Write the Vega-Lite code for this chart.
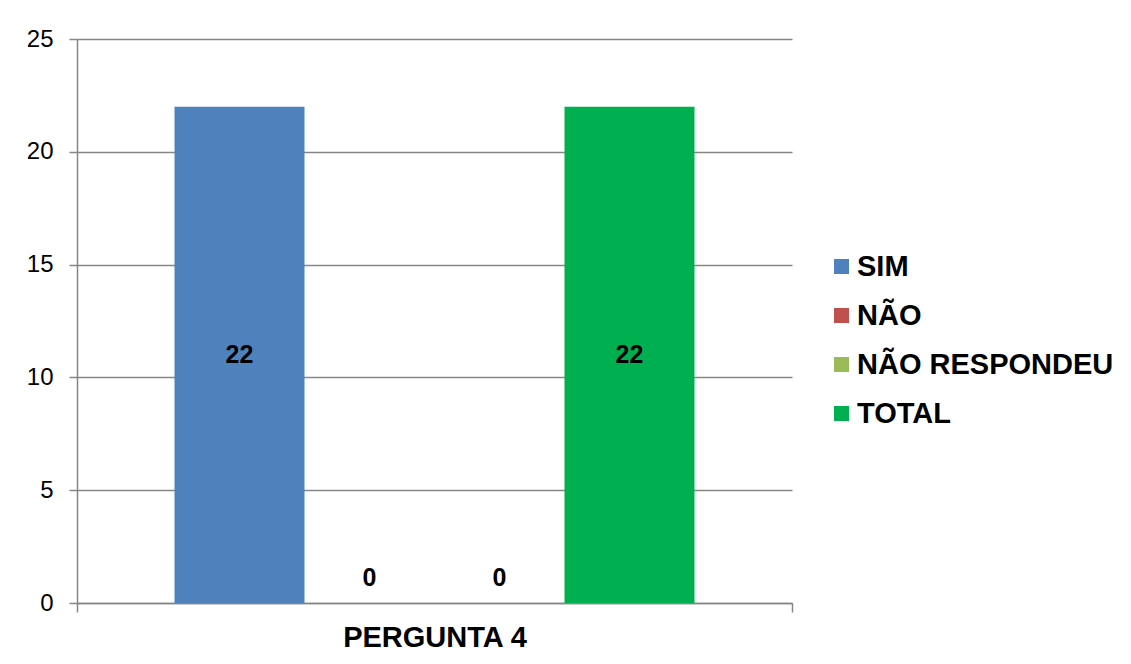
{
  "$schema": "https://vega.github.io/schema/vega-lite/v6.json",
  "autosize": "none",
  "width": 715,
  "height": 564,
  "padding": {"left": 77, "top": 39, "right": 339, "bottom": 61},
  "background": "white",
  "data": {
    "values": [
      {"pergunta": "PERGUNTA 4", "resposta": "SIM", "valor": 22},
      {"pergunta": "PERGUNTA 4", "resposta": "NÃO", "valor": 0},
      {"pergunta": "PERGUNTA 4", "resposta": "NÃO RESPONDEU", "valor": 0},
      {"pergunta": "PERGUNTA 4", "resposta": "TOTAL", "valor": 22}
    ]
  },
  "encoding": {
    "x": {
      "field": "pergunta",
      "type": "nominal",
      "scale": {"paddingInner": 0, "paddingOuter": 0},
      "axis": {
        "title": null,
        "labelAngle": 0,
        "labelFont": "Liberation Sans",
        "labelFontWeight": "bold",
        "labelFontSize": 29,
        "labelLimit": 600,
        "labelColor": "#000000",
        "labelPadding": 11,
        "tickBand": "extent",
        "tickSize": 9
      }
    },
    "xOffset": {
      "field": "resposta",
      "type": "nominal",
      "sort": ["SIM", "NÃO", "NÃO RESPONDEU", "TOTAL"],
      "scale": {"paddingInner": 0, "paddingOuter": 0.75}
    }
  },
  "layer": [
    {
      "mark": {"type": "bar"},
      "encoding": {
        "y": {
          "field": "valor",
          "type": "quantitative",
          "scale": {"domain": [0, 25], "nice": false},
          "axis": {"title": null, "values": [0, 5, 10, 15, 20, 25], "grid": true}
        },
        "color": {
          "field": "resposta",
          "type": "nominal",
          "sort": ["SIM", "NÃO", "NÃO RESPONDEU", "TOTAL"],
          "scale": {
            "domain": ["SIM", "NÃO", "NÃO RESPONDEU", "TOTAL"],
            "range": ["#4F81BD", "#C0504D", "#9BBB59", "#00B050"]
          },
          "legend": {
            "title": null,
            "orient": "none",
            "legendX": 750,
            "legendY": 213,
            "padding": 0,
            "symbolType": "square",
            "symbolSize": 225,
            "symbolStrokeWidth": 0,
            "symbolOpacity": 1,
            "labelFont": "Liberation Sans",
            "labelFontWeight": "bold",
            "labelFontSize": 29,
            "labelColor": "#000000",
            "labelOffset": 1,
            "labelLimit": 400,
            "rowPadding": 19
          }
        }
      }
    },
    {
      "transform": [
        {"filter": "datum.valor > 0"},
        {"calculate": "datum.valor / 2", "as": "meio"}
      ],
      "mark": {
        "type": "text",
        "font": "Liberation Sans",
        "fontWeight": "bold",
        "fontSize": 25,
        "color": "#000000",
        "baseline": "middle"
      },
      "encoding": {
        "y": {"field": "meio", "type": "quantitative", "axis": {"title": null}},
        "text": {"field": "valor", "type": "quantitative"}
      }
    },
    {
      "transform": [{"filter": "datum.valor == 0"}],
      "mark": {
        "type": "text",
        "font": "Liberation Sans",
        "fontWeight": "bold",
        "fontSize": 25,
        "color": "#000000",
        "baseline": "middle",
        "dy": -25
      },
      "encoding": {
        "y": {"field": "valor", "type": "quantitative", "axis": {"title": null}},
        "text": {"field": "valor", "type": "quantitative"}
      }
    }
  ],
  "config": {
    "view": {"stroke": null},
    "axis": {
      "tickColor": "#868686",
      "tickWidth": 1.5,
      "domainColor": "#868686",
      "domainWidth": 1.5,
      "gridColor": "#868686",
      "gridWidth": 1.5
    },
    "axisY": {
      "labelFont": "Liberation Sans",
      "labelFontSize": 24,
      "labelColor": "#000000",
      "labelPadding": 16,
      "tickSize": 8
    }
  }
}
